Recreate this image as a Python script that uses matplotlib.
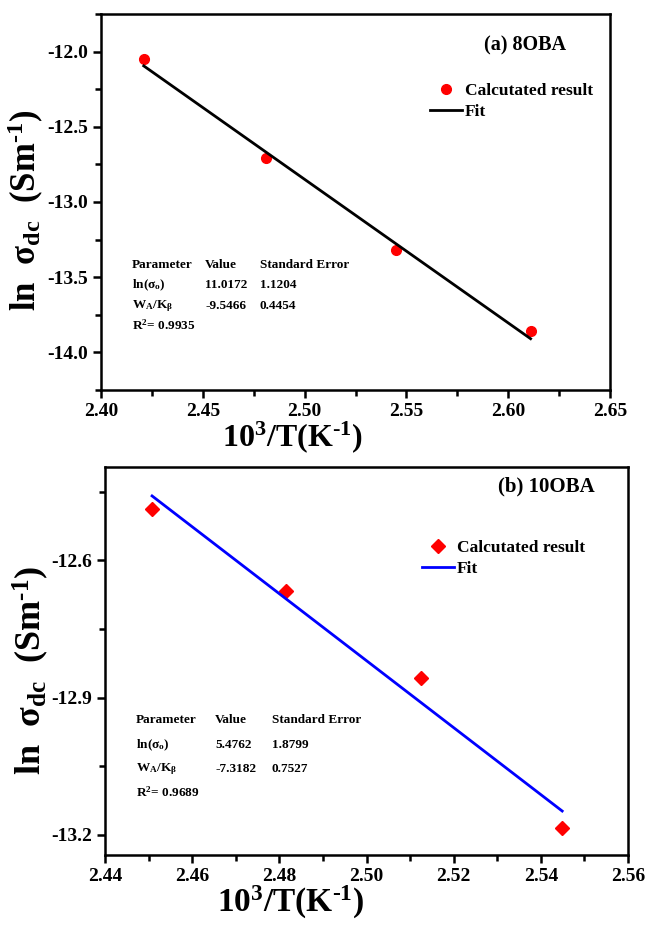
import matplotlib
matplotlib.use("Agg")
import matplotlib.pyplot as plt
from matplotlib.ticker import MultipleLocator, FormatStrFormatter
import numpy as np

# データ (a) 8OBA
x_a = [2.421, 2.481, 2.545, 2.611]
y_a = [-12.05, -12.71, -13.32, -13.86]
fit_a = (11.0172, -9.5466)  # 切片, 傾き
table_a = [("Parameter", "Value", "Standard Error"),
           (r"ln($\sigma_{\rm o}$)", "11.0172", "1.1204"),
           (r"W$_{\rm A}$/K$_\beta$", "-9.5466", "0.4454"),
           (r"R$^2$= 0.9935", "", "")]

# データ (b) 10OBA
x_b = [2.4508, 2.4815, 2.5125, 2.5449]
y_b = [-12.488, -12.666, -12.858, -13.186]
fit_b = (5.4762, -7.3182)
table_b = [("Parameter", "Value", "Standard Error"),
           (r"ln($\sigma_{\rm o}$)", "5.4762", "1.8799"),
           (r"W$_{\rm A}$/K$_\beta$", "-7.3182", "0.7527"),
           (r"R$^2$= 0.9689", "", "")]

plt.rcParams["font.family"] = "Liberation Serif"
plt.rcParams["font.weight"] = "bold"
plt.rcParams["axes.labelweight"] = "bold"
plt.rcParams["axes.unicode_minus"] = False
plt.rcParams["mathtext.fontset"] = "custom"
plt.rcParams["mathtext.rm"] = "Liberation Serif:bold"
plt.rcParams["mathtext.it"] = "Liberation Serif:bold"
plt.rcParams["mathtext.bf"] = "Liberation Serif:bold"
plt.rcParams["mathtext.default"] = "rm"

W, H = 650, 934
fig = plt.figure(figsize=(6.5, 9.34), dpi=100)

xlab = r"10$^{3}$/T(K$^{\text{-1}}$)"
ylab = r"ln  $\sigma_{\rm dc}$  (Sm$^{\text{-1}}$)"


def px_axes(l, t, r, b):
    return fig.add_axes([l / W, 1 - b / H, (r - l) / W, (b - t) / H])


def style_axes(ax):
    for s in ax.spines.values():
        s.set_linewidth(1.8)
    ax.tick_params(which="both", direction="out", width=1.8, labelsize=14,
                   top=False, right=False)
    ax.tick_params(which="major", length=6)
    ax.tick_params(which="minor", length=4)
    ax.xaxis.set_major_formatter(FormatStrFormatter("%.2f"))
    ax.yaxis.set_major_formatter(FormatStrFormatter("%.1f"))


def put_table(rows, xs, ys):
    for row, y in zip(rows, ys):
        for txt, x in zip(row, xs):
            if txt:
                fig.text(x / W, 1 - y / H, txt, fontsize=9.5, fontweight="bold",
                         va="center", ha="left")


# ── (a) 8OBA ──
ax1 = px_axes(101, 14, 610, 390)
xx = np.array([x_a[0], x_a[-1]])
ax1.plot(x_a, y_a, "o", color="red", markersize=7, label="Calcutated result")
ax1.plot(xx, fit_a[0] + fit_a[1] * xx, "-", color="black", lw=2, label="Fit")
ax1.set_xlim(2.40, 2.65)
ax1.set_ylim(-14.25, -11.75)
ax1.xaxis.set_major_locator(MultipleLocator(0.05))
ax1.xaxis.set_minor_locator(MultipleLocator(0.025))
ax1.yaxis.set_major_locator(MultipleLocator(0.5))
ax1.yaxis.set_minor_locator(MultipleLocator(0.25))
style_axes(ax1)
ax1.set_xlabel(xlab, fontsize=23)
ax1.set_ylabel(ylab, fontsize=25)
ax1.xaxis.set_label_coords(0.377, -0.079)
ax1.yaxis.set_label_coords(-0.108, 0.479)
ax1.text(0.752, 0.917, "(a) 8OBA", transform=ax1.transAxes, fontsize=14.5,
         fontweight="bold", va="center")
ax1.legend(loc="upper left", bbox_to_anchor=(0.63, 0.84), frameon=False,
           fontsize=12.5, handlelength=1.8, handletextpad=0.2, labelspacing=0.3,
           borderpad=0)
put_table(table_a, [132, 205, 260], [265, 285, 306, 325])

# ── (b) 10OBA ──
ax2 = px_axes(105, 467, 628, 855)
xx = np.array([x_b[0], x_b[-1]])
ax2.plot(x_b, y_b, "D", color="red", markersize=7, label="Calcutated result")
ax2.plot(xx, fit_b[0] + fit_b[1] * xx, "-", color="blue", lw=2, label="Fit")
ax2.set_xlim(2.44, 2.56)
ax2.set_ylim(-13.244, -12.396)
ax2.xaxis.set_major_locator(MultipleLocator(0.02))
ax2.xaxis.set_minor_locator(MultipleLocator(0.01))
ax2.yaxis.set_major_locator(MultipleLocator(0.3))
ax2.yaxis.set_minor_locator(MultipleLocator(0.15))
style_axes(ax2)
ax2.set_xlabel(xlab, fontsize=24)
ax2.set_ylabel(ylab, fontsize=26)
ax2.xaxis.set_label_coords(0.354, -0.074)
ax2.yaxis.set_label_coords(-0.104, 0.477)
ax2.text(0.752, 0.95, "(b) 10OBA", transform=ax2.transAxes, fontsize=15,
         fontweight="bold", va="center")
ax2.legend(loc="upper left", bbox_to_anchor=(0.59, 0.835), frameon=False,
           fontsize=12.5, handlelength=1.8, handletextpad=0.2, labelspacing=0.3,
           borderpad=0)
put_table(table_b, [136, 215, 272], [720, 745, 769, 792])

fig.savefig("out.png", dpi=100)
